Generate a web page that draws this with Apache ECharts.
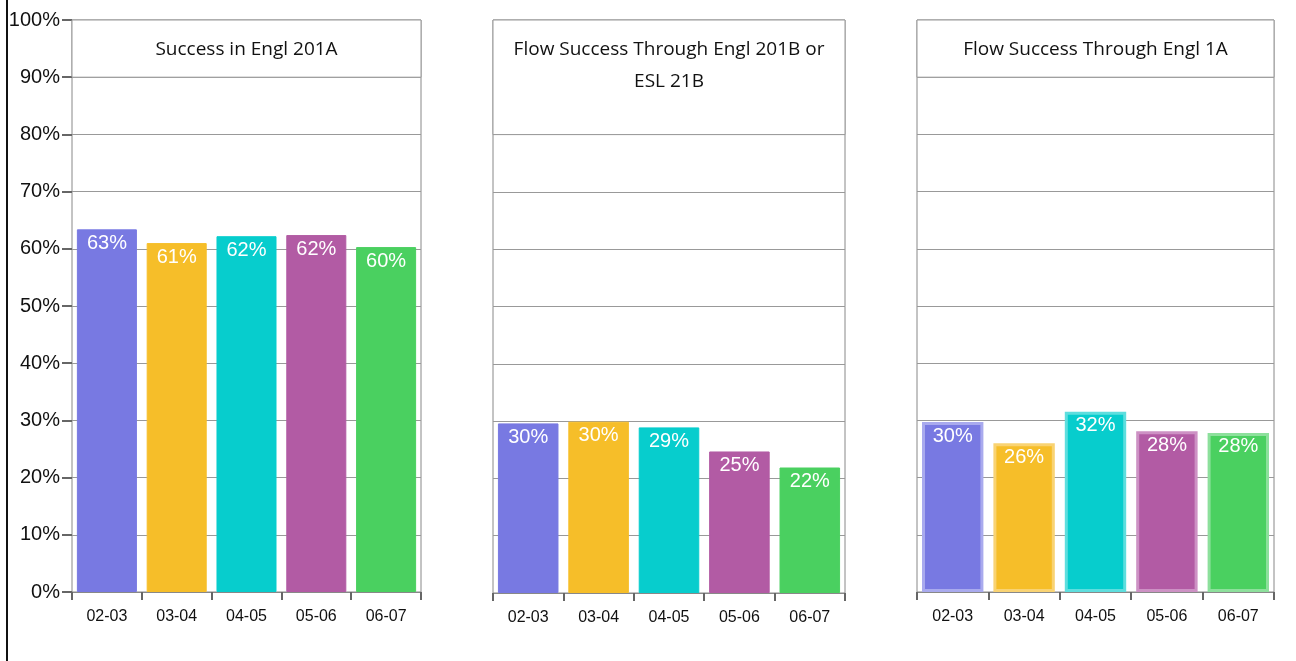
<!DOCTYPE html>
<html>
<head>
<meta charset="utf-8">
<script src="https://cdn.jsdelivr.net/npm/echarts@6/dist/echarts.min.js"></script>
<style>
html,body{margin:0;padding:0;background:#fff;}
#c{width:1296px;height:661px;}
</style>
</head>
<body>
<div id="c"></div>
<script>
// ---- data ----
const categories = ['02-03', '03-04', '04-05', '05-06', '06-07'];
const panelTitles = ['Success in Engl 201A', 'Flow Success Through Engl 201B or\nESL 21B', 'Flow Success Through Engl 1A'];
const successEngl201A = [63.4, 61.0, 62.2, 62.4, 60.3];
const flowEngl201B = [29.6, 29.9, 28.9, 24.7, 21.9];
const flowEngl1A = [29.7, 26.0, 31.5, 28.1, 27.8];
const barColors = ['#7879E2', '#F6BE29', '#07CDCD', '#B25BA4', '#4AD060'];
const barBorders = ['#A9AAEE', '#F9D373', '#5EDEDE', '#CD91C4', '#8DE09C'];
const yTicks = [0, 10, 20, 30, 40, 50, 60, 70, 80, 90, 100];

const seriesValues = [successEngl201A, flowEngl201B, flowEngl1A];
const titleBandBottom = [90, 80, 90];

const chart = echarts.init(document.getElementById('c'));

const grids = [
  {left: 72, width: 349, top: 20, height: 572},
  {left: 493, width: 352, top: 20, height: 573},
  {left: 917, width: 357, top: 20, height: 572}
];

const option = {
  animation: false,
  backgroundColor: '#fff',
  grid: grids.map(g => Object.assign({show: true, borderColor: '#888', borderWidth: 1, containLabel: false}, g)),
  xAxis: grids.map((g, i) => ({
    type: 'category',
    gridIndex: i,
    data: categories,
    axisLine: {lineStyle: {color: '#888', width: 1}},
    axisTick: {show: true, length: 8, lineStyle: {color: '#666', width: 2}},
    axisLabel: {color: '#111', fontFamily: 'Liberation Sans', fontSize: 16, margin: 17}
  })),
  yAxis: grids.map((g, i) => ({
    type: 'value',
    gridIndex: i,
    min: 0, max: 100, interval: 10,
    axisLine: {show: false},
    axisTick: {show: i === 0, length: 10, lineStyle: {color: '#666', width: 2}},
    axisLabel: {show: i === 0, color: '#111', fontFamily: 'Liberation Sans', fontSize: 20, margin: 12,
      formatter: v => yTicks.indexOf(v) >= 0 ? v + '%' : ''},
    splitLine: {show: true, lineStyle: {color: '#999', width: 1}}
  })),
  series: seriesValues.map((vals, i) => ({
    type: 'bar',
    xAxisIndex: i,
    yAxisIndex: i,
    barCategoryGap: '14%',
    data: vals.map((v, j) => ({
      value: v,
      itemStyle: i === 2
        ? {color: barColors[j], borderColor: barBorders[j], borderWidth: 3}
        : {color: barColors[j], borderColor: barColors[j], borderWidth: 1}
    })),
    label: {
      show: true,
      position: 'insideTop',
      distance: 4,
      color: '#fff',
      fontFamily: 'Liberation Sans',
      fontSize: 20,
      formatter: p => Math.round(p.value) + '%'
    },
    markArea: {
      silent: true,
      itemStyle: {color: '#fff', borderColor: '#999', borderWidth: 1},
      label: {
        show: true,
        position: 'insideTop',
        distance: 14,
        color: '#111',
        fontFamily: 'Open Sans',
        fontSize: 19,
        lineHeight: 32,
        align: 'center'
      },
      data: [[{yAxis: titleBandBottom[i], name: panelTitles[i]}, {yAxis: 100}]]
    }
  })),
  graphic: [{
    type: 'line',
    shape: {x1: 7, y1: 0, x2: 7, y2: 661},
    style: {stroke: '#111', lineWidth: 2},
    silent: true
  }]
};
chart.setOption(option);
</script>
</body>
</html>
